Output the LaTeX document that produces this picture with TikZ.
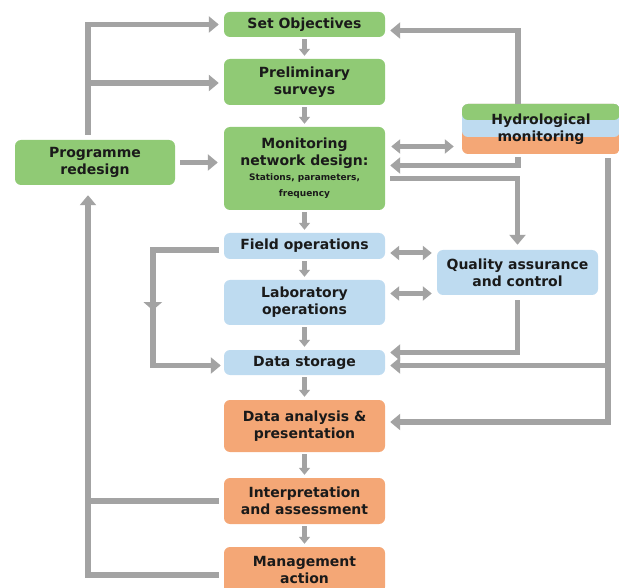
\documentclass[tikz,border=0pt]{standalone}
\usepackage{fontspec}
\setmainfont{DejaVu Sans}
\usetikzlibrary{arrows.meta,calc,decorations.markings}
\definecolor{boxgreen}{RGB}{144,202,117}
\definecolor{boxblue}{RGB}{190,219,240}
\definecolor{boxorange}{RGB}{244,167,118}
\definecolor{linkgray}{RGB}{163,163,163}
\definecolor{inkdark}{RGB}{26,26,26}
\newcommand{\smalltxt}{\fontsize{9}{11.5}\selectfont}

\begin{document}
\begin{tikzpicture}[x=1pt,y=-1pt]
\tikzstyle{every node}+=[inner sep=0pt]
\tikzstyle{stage}=[rectangle, rounded corners=6pt, minimum width=161pt, align=center, text=inkdark, font=\bfseries\fontsize{14}{17}\selectfont]
\tikzstyle{link}=[draw=linkgray, line width=5.5pt, -{Triangle[width=16pt,length=10pt]}]
\tikzstyle{plainlink}=[draw=linkgray, line width=5.5pt]
\tikzstyle{stepdown}=[draw=linkgray, line width=4.5pt, -{Triangle[width=11pt,length=7pt]}, shorten <=2pt, shorten >=3pt]
\tikzstyle{twoway}=[draw=linkgray, line width=5pt, {Triangle[width=14pt,length=9pt]}-{Triangle[width=14pt,length=9pt]}]
\useasboundingbox (0,0) rectangle (619,588);

\node [stage, fill=boxgreen, minimum height=25pt] (setobj) at (304.5,24.5) {Set Objectives};
\node [stage, fill=boxgreen, minimum height=46pt] (prelim) at (304.5,82) {Preliminary\\surveys};
\node [stage, fill=boxgreen, minimum height=83pt] (mon) at (304.5,168.5) {Monitoring\\network design:\\[-2pt] \smalltxt Stations, parameters,\\[-1pt] \smalltxt frequency};
\node [stage, fill=boxblue, minimum height=26pt] (field) at (304.5,246) {Field operations};
\node [stage, fill=boxblue, minimum height=45pt] (lab) at (304.5,302.5) {Laboratory\\operations};
\node [stage, fill=boxblue, minimum height=25pt] (storage) at (304.5,362.5) {Data storage};
\node [stage, fill=boxorange, minimum height=52pt] (analysis) at (304.5,426) {Data analysis \&\\presentation};
\node [stage, fill=boxorange, minimum height=46pt] (interp) at (304.5,501) {Interpretation\\and assessment};
\node [stage, fill=boxorange, minimum height=46pt] (mgmt) at (304.5,570) {Management\\action};
\node [stage, fill=boxgreen, minimum width=160pt, minimum height=45pt] (prog) at (95,162.5) {Programme\\redesign};
\node [stage, fill=boxblue, minimum height=45pt] (qa) at (517.5,272.5) {Quality assurance\\and control};
\node [stage, minimum width=158pt, minimum height=50pt, path picture={
  \fill[boxorange] (path picture bounding box.north west) rectangle (path picture bounding box.south east);
  \fill[boxblue] (path picture bounding box.north west) rectangle ($(path picture bounding box.north east)+(0pt,-33pt)$);
  \fill[boxgreen] (path picture bounding box.north west) rectangle ($(path picture bounding box.north east)+(0pt,-16pt)$);
  }] (hydro) at (541,129) {Hydrological\\monitoring};

\draw [stepdown] (setobj) -- (prelim);
\draw [stepdown] (prelim) -- (mon);
\draw [stepdown] (mon) -- (field);
\draw [stepdown] (field) -- (lab);
\draw [stepdown] (lab) -- (storage);
\draw [stepdown] (storage) -- (analysis);
\draw [stepdown] (analysis) -- (interp);
\draw [stepdown] (interp) -- (mgmt);

\coordinate (progtop) at ($(prog.north)+(-7,-5)$);
\coordinate (progbot) at ($(prog.south)+(-7,0)$);
\draw [link, shorten >=5pt] (progtop) |- (setobj.west);
\draw [link, shorten >=5pt] (progtop) |- ($(prelim.west)+(0,1)$);
\draw [link, shorten <=5pt, shorten >=6pt] (prog.east) -- (prog.east -| mon.west);
\draw [link, shorten >=10pt] ($(interp.west)+(-5,0)$) -| (progbot);
\draw [plainlink] ($(mgmt.west)+(-5,5)$) -| (progbot |- interp.west);

\draw [link, shorten >=3pt, postaction={decorate}, decoration={markings, mark=at position 0.5 with {\arrow{Triangle[width=18pt,length=8pt]}}}] ($(field.west)+(-5,4)$) -- ++(-66,0) |- ($(storage.west)+(0,3)$);

\draw [link, shorten >=5pt] ($(hydro.north)+(-23,0)$) |- ($(setobj.east)+(0,6)$);
\draw [link, shorten >=5pt] ($(hydro.south)+(-23,3)$) |- ($(mon.east)+(0,-3)$);
\draw [twoway, shorten <=6pt, shorten >=8pt] ($(mon.east)+(0,-22)$) -- ($(mon.east -| hydro.west)+(0,-22)$);
\draw [link, shorten >=5pt] ($(mon.east)+(5,10)$) -| (qa.north);
\draw [link, shorten >=5pt] ($(hydro.south)+(67,4)$) |- ($(analysis.east)+(0,-4)$);
\draw [link, shorten >=5pt] ($(hydro.south)+(67,4)$) |- ($(storage.east)+(0,3)$);

\draw [twoway, shorten <=5pt, shorten >=5pt] ($(field.east)+(0,7)$) -- ($(field.east -| qa.west)+(0,7)$);
\draw [twoway, shorten <=5pt, shorten >=5pt] ($(lab.east)+(0,-9)$) -- ($(lab.east -| qa.west)+(0,-9)$);
\draw [link, shorten >=5pt] ($(qa.south)+(0,5)$) |- ($(storage.east)+(0,-10)$);
\end{tikzpicture}
\end{document}
